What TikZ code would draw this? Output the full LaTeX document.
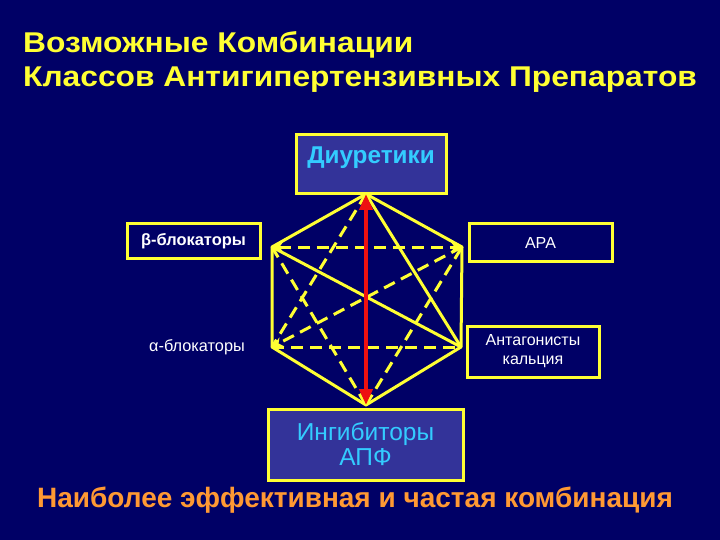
\documentclass[tikz,border=0pt]{standalone}
\usepackage{fontspec}
\setmainfont{Liberation Sans}
\newfontfamily\titlefont[FakeStretch=1.11]{Liberation Sans}
\usetikzlibrary{arrows.meta}
\usepackage{xcolor}
\definecolor{bgnavy}{HTML}{000066}
\definecolor{boxblue}{HTML}{333399}
\definecolor{hexyellow}{HTML}{FFFF33}
\definecolor{titleyellow}{HTML}{FFFF33}
\definecolor{labelcyan}{HTML}{33CCFF}
\definecolor{combiorange}{HTML}{FF9933}
\definecolor{arrowred}{HTML}{EE1111}

\tikzset{
  classbox/.style={draw=hexyellow, line width=3pt, text=white, inner sep=0pt, align=center},
  solidedge/.style={hexyellow, line width=3pt},
  dashededge/.style={hexyellow, line width=3pt, dash pattern=on 12pt off 7pt},
}

\begin{document}
\begin{tikzpicture}[x=1pt, y=-1pt, >={Stealth[length=11pt,width=10pt]}]
  \fill[bgnavy] (0,0) rectangle (720,540);
  \useasboundingbox (0,0) rectangle (720,540);
  % title
  \node[anchor=base west, inner xsep=0pt, text=titleyellow, font=\titlefont\fontsize{28.6}{34}\selectfont\bfseries] (titletop) at (23,53) {Возможные Комбинации};
  \node[anchor=base west, inner xsep=0pt, text=titleyellow, font=\titlefont\fontsize{28.6}{34}\selectfont\bfseries] (titlebottom) at (23,87) {Классов Антигипертензивных Препаратов};
  % classes
  \node[classbox, fill=boxblue, text=labelcyan, minimum width=150pt, text height=29pt, text depth=30pt,
        font=\fontsize{24.3}{26}\selectfont\bfseries] (diuretics) at (371,133) [anchor=north] {Диуретики};
  \node[classbox, minimum width=133pt, minimum height=34pt, font=\fontsize{16.4}{20}\selectfont\bfseries] (betablock) at (193.5,241) {β-блокаторы};
  \node[classbox, minimum width=143pt, minimum height=37pt, font=\fontsize{16}{19}\selectfont] (ara) at (540.5,242.5) {АРА};
  \node[classbox, minimum width=132pt, minimum height=51pt, font=\fontsize{16}{19}\selectfont] (calcium) at (533,351.5) {Антагонисты\\кальция};
  \node[text=white, font=\fontsize{16.3}{19}\selectfont] (alphablock) at (197,347) {α-блокаторы};
  \node[classbox, fill=boxblue, text=labelcyan, minimum width=195pt, minimum height=71pt,
        font=\fontsize{24.5}{25}\selectfont] (acei) at (365.5,444.5) {Ингибиторы\\АПФ};
  % hexagon corners
  \coordinate (T) at (366,194);
  \coordinate (UL) at (272,247);
  \coordinate (UR) at (462,247);
  \coordinate (LL) at (272,347);
  \coordinate (LR) at (461,347);
  \coordinate (B) at (366,405);
  % solid combinations
  \draw[solidedge, line join=round] (T) -- (UR) -- (LR) -- (B) -- (LL) -- (UL) -- cycle;
  \draw[solidedge] (UL) -- (LR);
  \draw[solidedge] (T) -- (LR);
  % dashed combinations
  \draw[dashededge, <->] (UL) -- (UR);
  \draw[dashededge] (LL) -- (LR);
  \draw[dashededge] (T) -- (LL);
  \draw[dashededge, ->] (UR) -- (LL);
  \draw[dashededge] (UL) -- (B);
  \draw[dashededge] (B) -- (UR);
  % most effective
  \draw[arrowred, line width=4pt, {Triangle[length=16pt,width=13pt]}-{Triangle[length=16pt,width=13pt]}] (T) -- (B);
  \node[text=combiorange, font=\fontsize{28}{32}\selectfont\bfseries] (bestcombo) at (355,500) {Наиболее эффективная и частая комбинация};
\end{tikzpicture}
\end{document}
